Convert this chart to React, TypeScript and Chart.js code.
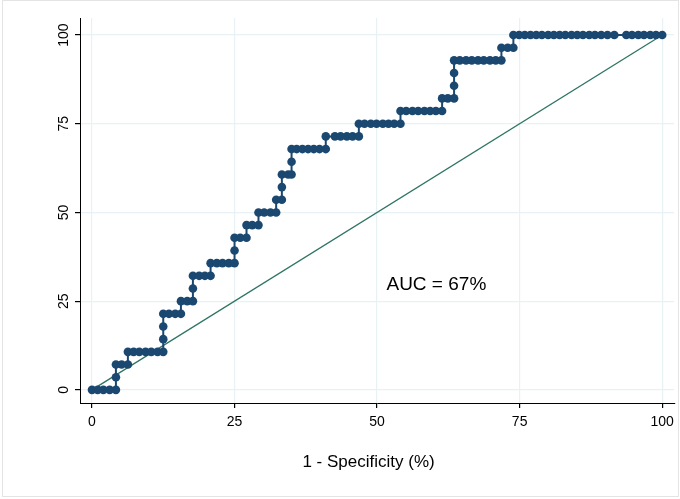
import { useEffect, useRef } from "react"
import { Chart, registerables } from "chart.js"

Chart.register(...registerables)

// sensitivity levels (%) and the 1 - specificity values (%) plotted at each level
const tprLevels = [0, 3.57, 7.14, 10.71, 14.29, 17.86, 21.43, 25, 28.57, 32.14, 35.71, 39.29, 42.86, 46.43, 50, 53.57, 57.14, 60.71, 64.29, 67.86, 71.43, 75, 78.57, 82.14, 85.71, 89.29, 92.86, 96.43, 100]
const fprAtLevel = [
  [0, 1, 2, 3.1, 4.2],
  [4.2],
  [4.2, 5.2, 6.3],
  [6.3, 7.3, 8.3, 9.4, 10.4, 11.5, 12.5],
  [12.5],
  [12.5],
  [12.5, 13.5, 14.6, 15.6],
  [15.6, 16.7, 17.7],
  [17.7],
  [17.7, 18.8, 19.8, 20.8],
  [20.8, 21.9, 22.9, 24.0, 25.0],
  [25.0],
  [25.0, 26.0, 27.1],
  [27.1, 28.1, 29.2],
  [29.2, 30.2, 31.3, 32.3],
  [32.3, 33.3],
  [33.3],
  [33.3, 34.4, 35.0],
  [35.0],
  [35.0, 35.9, 36.9, 37.9, 38.9, 39.9, 41.0],
  [41.0, 42.6, 43.6, 44.7, 45.7, 46.8],
  [46.8, 47.8, 48.9, 49.9, 51.0, 52.0, 53.0, 54.1],
  [54.1, 55.1, 56.2, 57.2, 58.3, 59.3, 60.3, 61.4],
  [61.4, 62.4, 63.5],
  [63.5],
  [63.5],
  [63.5, 64.5, 65.6, 66.6, 67.7, 68.7, 69.8, 70.8, 71.8],
  [71.8, 72.9, 73.9],
  [73.9, 74.9, 75.9, 76.9, 77.9, 78.9, 80.0, 81.0, 82.0, 83.0, 84.1, 85.1, 86.1, 87.2, 88.2, 89.3, 90.4, 91.6, 93.7, 94.7, 95.8, 96.8, 97.9, 98.9, 100],
]
const xTicks = [0, 25, 50, 75, 100]
const yTicks = [0, 25, 50, 75, 100]
const aucLabel = "AUC = 67%"

const FONT = "'Liberation Sans', Arial, sans-serif"

export default function App() {
  const chartRef = useRef<HTMLCanvasElement>(null)
  const chartInstance = useRef<Chart | null>(null)

  useEffect(() => {
    document.body.style.margin = "0"
    if (!chartRef.current) return
    const ctx = chartRef.current.getContext("2d")
    if (!ctx) return
    if (chartInstance.current) chartInstance.current.destroy()

    const rocPoints: { x: number; y: number }[] = []
    tprLevels.forEach((y, i) => fprAtLevel[i].forEach((x) => rocPoints.push({ x, y })))

    const overlay = {
      id: "overlay",
      afterDraw(chart: any) {
        const c = chart.ctx
        const xs = chart.scales.x
        const ys = chart.scales.y
        c.save()
        c.fillStyle = "#000"
        c.font = `14px ${FONT}`
        c.textAlign = "center"
        c.textBaseline = "middle"
        yTicks.forEach((v) => {
          c.save()
          c.translate(64, ys.getPixelForValue(v))
          c.rotate(-Math.PI / 2)
          c.fillText(String(v), 0, 0)
          c.restore()
        })
        c.font = `17px ${FONT}`
        c.fillText("1 - Specificity (%)", xs.getPixelForValue(48.5), 462)
        c.font = `19px ${FONT}`
        c.fillText(aucLabel, xs.getPixelForValue(62.5) - 12, ys.getPixelForValue(29.5))
        c.strokeStyle = "#e4e4e4"
        c.lineWidth = 1
        c.strokeRect(2.5, 0.5, 676, 496)
        c.restore()
      },
    }

    chartInstance.current = new Chart(ctx, {
      type: "scatter",
      data: {
        datasets: [
          {
            data: rocPoints,
            showLine: true,
            borderColor: "#1a4870",
            backgroundColor: "#1a4870",
            borderWidth: 2,
            pointRadius: 4.3,
            pointBorderWidth: 0,
          },
          {
            data: [{ x: 0, y: 0 }, { x: 100, y: 100 }],
            showLine: true,
            borderColor: "#2f7564",
            borderWidth: 1.3,
            pointRadius: 0,
          },
        ],
      },
      options: {
        animation: false,
        responsive: false,
        layout: { padding: { top: 18, right: 5, left: 0, bottom: 0 } },
        plugins: { legend: { display: false }, tooltip: { enabled: false } },
        scales: {
          x: {
            type: "linear",
            min: -2.1,
            max: 102.1,
            afterBuildTicks: (s: any) => { s.ticks = xTicks.map((v) => ({ value: v })) },
            afterFit: (s: any) => { s.height = 96 },
            border: { color: "#000", width: 1 },
            grid: { color: "#e8f1f3", lineWidth: 1.2, tickColor: "#000", tickLength: 5 },
            ticks: { color: "#000", font: { family: FONT, size: 14 }, padding: 6, maxRotation: 0 },
          },
          y: {
            type: "linear",
            min: -3.7,
            max: 104.8,
            afterBuildTicks: (s: any) => { s.ticks = yTicks.map((v) => ({ value: v })) },
            afterFit: (s: any) => { s.width = 80 },
            border: { color: "#000", width: 1 },
            grid: { color: "#e8f1f3", lineWidth: 1.2, tickColor: "#000", tickLength: 5 },
            ticks: { display: false },
          },
        },
      },
      plugins: [overlay],
    })

    return () => {
      if (chartInstance.current) chartInstance.current.destroy()
    }
  }, [])

  return (
    <div style={{ width: 680, height: 499, background: "#fff" }}>
      <canvas ref={chartRef} width={680} height={499} />
    </div>
  )
}
